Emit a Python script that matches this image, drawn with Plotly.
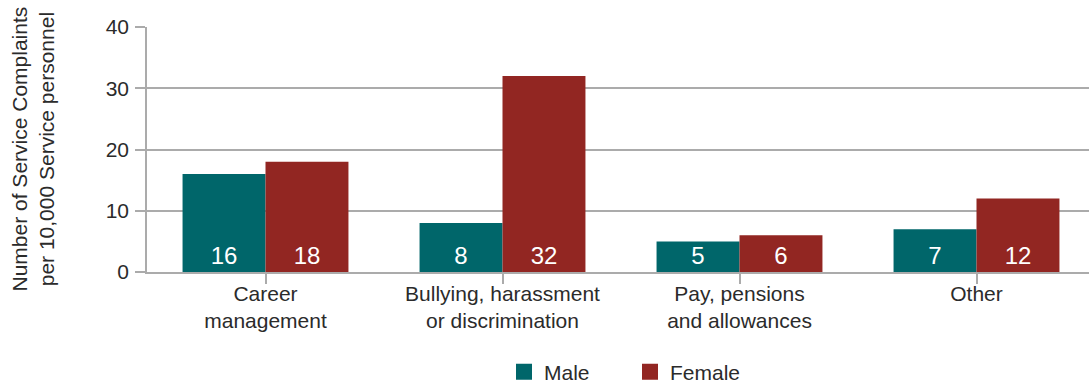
import plotly.graph_objects as go

categories = ["Career<br>management", "Bullying, harassment<br>or discrimination",
              "Pay, pensions<br>and allowances", "Other"]
male = [16, 8, 5, 7]
female = [18, 32, 6, 12]
y_ticks = [0, 10, 20, 30, 40]

TEAL = "#00666A"
RED = "#922622"
GRID = "#ababab"
TEXT = "#2b2b2b"
FONT = "Liberation Sans, Arial, Helvetica, sans-serif"

W, H = 1089, 385
ML, MR, MT, MB = 147, 0, 27, 113
cat_px = 237.0
plot_w = W - ML - MR
x_hi = -0.5 + plot_w / cat_px

fig = go.Figure()
for name, vals, col in [("Male", male, TEAL), ("Female", female, RED)]:
    fig.add_trace(go.Bar(
        x=list(range(len(categories))), y=vals, name=name,
        marker=dict(color=col, line=dict(width=0)),
        text=[str(v) for v in vals], textposition="inside",
        insidetextanchor="start", textangle=0, constraintext="none",
        textfont=dict(color="white", size=24, family=FONT),
        showlegend=False, hoverinfo="skip",
    ))
    # legend entry with a larger square swatch
    fig.add_trace(go.Scatter(
        x=[None], y=[None], mode="markers", name=name,
        marker=dict(symbol="square", size=16, color=col),
        showlegend=True,
    ))

fig.update_layout(
    width=W, height=H,
    margin=dict(l=ML, r=MR, t=MT, b=MB, pad=0),
    paper_bgcolor="white", plot_bgcolor="white",
    barmode="group", bargap=0.3, bargroupgap=0,
    font=dict(family=FONT, size=21, color=TEXT),
    legend=dict(orientation="h", xref="container", yref="container",
                x=(529 - 25) / W, xanchor="left",
                y=1 - 372 / H, yanchor="middle",
                font=dict(size=21, color=TEXT),
                entrywidth=81, entrywidthmode="pixels",
                itemclick=False, traceorder="normal"),
    xaxis=dict(
        range=[-0.5, x_hi], tickmode="array",
        tickvals=list(range(len(categories))), ticktext=categories,
        ticks="outside", tickson="boundaries", ticklen=10, tickwidth=1.5,
        tickcolor=GRID, showline=True, linecolor=GRID, linewidth=1.5,
        showgrid=False, zeroline=False, fixedrange=True,
        ticklabelstandoff=-8,
        tickfont=dict(size=21, color=TEXT),
    ),
    yaxis=dict(
        range=[0, 40], tickmode="array", tickvals=y_ticks,
        ticks="outside", ticklen=10, tickwidth=1.5, tickcolor=GRID,
        showgrid=True, gridcolor=GRID, gridwidth=1.5,
        showline=True, linecolor=GRID, linewidth=1.5,
        zeroline=False, fixedrange=True, ticklabelstandoff=2,
        tickfont=dict(size=21, color=TEXT),
    ),
    annotations=[dict(
        text="Number of Service Complaints<br>per 10,000 Service personnel",
        textangle=-90, xref="paper", yref="paper",
        x=(32 - ML) / plot_w, y=0.5, xanchor="center", yanchor="middle",
        showarrow=False, font=dict(size=21, color=TEXT),
    )],
)

fig.write_html("out.html", config={"displayModeBar": False})
